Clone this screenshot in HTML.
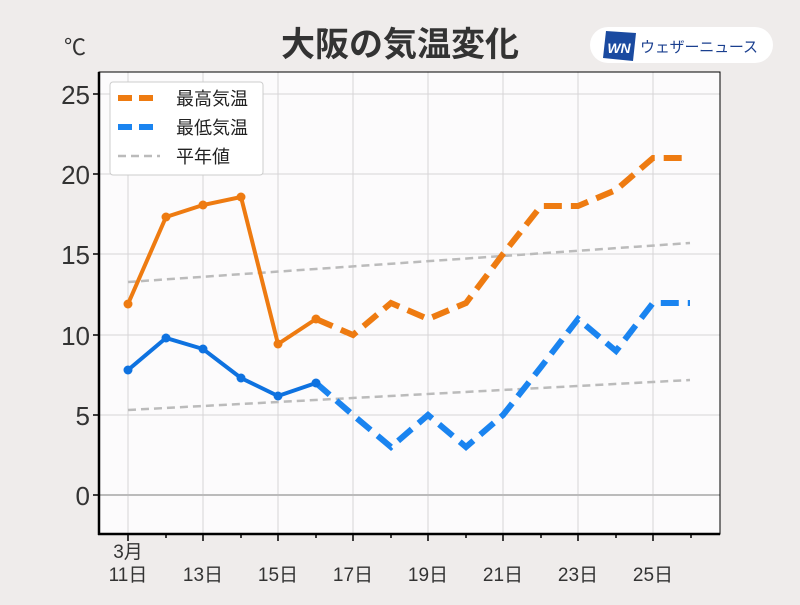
<!DOCTYPE html><html><head><meta charset="utf-8"><style>body{margin:0;background:#efeceb}svg text{font-family:"Liberation Sans","Noto Sans CJK JP",sans-serif}</style></head><body>
<svg width="800" height="600" xmlns="http://www.w3.org/2000/svg">
<rect width="800" height="600" fill="#efeceb"/>
<text x="400" y="56" text-anchor="middle" font-size="34" font-weight="bold" fill="#333">大阪の気温変化</text>
<rect x="590" y="27" width="183" height="36" rx="18" fill="#fff"/>
<polygon points="606,31 636,33 633,61 603,58" fill="#1a4aa0"/>
<text x="619" y="53" text-anchor="middle" font-size="14" font-weight="bold" font-style="italic" fill="#fff">WN</text>
<text x="640" y="52" font-size="15" fill="#1a3f8f" textLength="118">ウェザーニュース</text>
<text x="64" y="55" font-size="22" fill="#333">℃</text>
<rect x="99" y="72" width="621" height="462" fill="#fcfbfc"/>
<g stroke="#d6d4d6" stroke-width="1">
<line x1="128" y1="72" x2="128" y2="534"/><line x1="203" y1="72" x2="203" y2="534"/><line x1="278" y1="72" x2="278" y2="534"/><line x1="353" y1="72" x2="353" y2="534"/><line x1="428" y1="72" x2="428" y2="534"/><line x1="503" y1="72" x2="503" y2="534"/><line x1="578" y1="72" x2="578" y2="534"/><line x1="653" y1="72" x2="653" y2="534"/>
<line x1="99" y1="94" x2="720" y2="94"/><line x1="99" y1="174" x2="720" y2="174"/><line x1="99" y1="254" x2="720" y2="254"/><line x1="99" y1="335" x2="720" y2="335"/><line x1="99" y1="415" x2="720" y2="415"/>
</g>
<line x1="99" y1="495" x2="720" y2="495" stroke="#bbb" stroke-width="2"/>
<rect x="99" y="72" width="621" height="462" fill="none" stroke="#000" stroke-width="1"/>
<line x1="99" y1="72" x2="99" y2="535" stroke="#000" stroke-width="2.5"/>
<line x1="98" y1="534" x2="720" y2="534" stroke="#000" stroke-width="2.5"/>
<g stroke="#000" stroke-width="1.5">
<line x1="93" y1="94" x2="99" y2="94"/><line x1="93" y1="174" x2="99" y2="174"/><line x1="93" y1="254" x2="99" y2="254"/><line x1="93" y1="335" x2="99" y2="335"/><line x1="93" y1="415" x2="99" y2="415"/><line x1="93" y1="495" x2="99" y2="495"/>
<line x1="128" y1="534" x2="128" y2="541"/><line x1="203" y1="534" x2="203" y2="541"/><line x1="278" y1="534" x2="278" y2="541"/><line x1="353" y1="534" x2="353" y2="541"/><line x1="428" y1="534" x2="428" y2="541"/><line x1="503" y1="534" x2="503" y2="541"/><line x1="578" y1="534" x2="578" y2="541"/><line x1="653" y1="534" x2="653" y2="541"/>
<line x1="166" y1="534" x2="166" y2="538"/><line x1="241" y1="534" x2="241" y2="538"/><line x1="316" y1="534" x2="316" y2="538"/><line x1="391" y1="534" x2="391" y2="538"/><line x1="466" y1="534" x2="466" y2="538"/><line x1="541" y1="534" x2="541" y2="538"/><line x1="616" y1="534" x2="616" y2="538"/><line x1="691" y1="534" x2="691" y2="538"/>
</g>
<g font-size="26" fill="#333" text-anchor="end">
<text x="90" y="104">25</text><text x="90" y="184">20</text><text x="90" y="264">15</text><text x="90" y="345">10</text><text x="90" y="425">5</text><text x="90" y="505">0</text>
</g>
<g font-size="19" fill="#333" text-anchor="middle">
<text x="128" y="558">3月</text><text x="128" y="581">11日</text><text x="203" y="581">13日</text><text x="278" y="581">15日</text><text x="353" y="581">17日</text><text x="428" y="581">19日</text><text x="503" y="581">21日</text><text x="578" y="581">23日</text><text x="653" y="581">25日</text>
</g>
<g fill="none" stroke="#bbb" stroke-width="2.5" stroke-dasharray="8,5">
<polyline points="128,282 690,243"/><polyline points="128,410 690,380"/>
</g>
<polyline fill="none" stroke="#ee7b11" stroke-width="4" points="128,304 166,217 203,205 241,197 278,344 316,319"/>
<polyline fill="none" stroke="#ee7b11" stroke-width="6" stroke-dasharray="18,9" points="316,319 353,335 391,303 428,319 466,303 503,254 541,206 578,206 616,190 653,158 690,158"/>
<g fill="#ee7b11"><circle cx="128" cy="304" r="4.5"/><circle cx="166" cy="217" r="4.5"/><circle cx="203" cy="205" r="4.5"/><circle cx="241" cy="197" r="4.5"/><circle cx="278" cy="344" r="4.5"/><circle cx="316" cy="319" r="4.5"/></g>
<polyline fill="none" stroke="#0e72e0" stroke-width="4" points="128,370 166,338 203,349 241,378 278,396 316,383"/>
<polyline fill="none" stroke="#1a84f0" stroke-width="6" stroke-dasharray="18,9" points="316,383 353,415 391,447 428,415 466,447 503,415 541,367 578,319 616,351 653,303 690,303"/>
<g fill="#0e72e0"><circle cx="128" cy="370" r="4.5"/><circle cx="166" cy="338" r="4.5"/><circle cx="203" cy="349" r="4.5"/><circle cx="241" cy="378" r="4.5"/><circle cx="278" cy="396" r="4.5"/><circle cx="316" cy="383" r="4.5"/></g>
<rect x="110" y="82" width="153" height="93" rx="3" fill="#fff" stroke="#ccc"/>
<line x1="118" y1="98" x2="160" y2="98" stroke="#ee7b11" stroke-width="6" stroke-dasharray="14,7"/>
<line x1="118" y1="127" x2="160" y2="127" stroke="#1a84f0" stroke-width="6" stroke-dasharray="14,7"/>
<line x1="118" y1="156" x2="160" y2="156" stroke="#bbb" stroke-width="2.5" stroke-dasharray="8,5"/>
<g font-size="18" fill="#222"><text x="176" y="105">最高気温</text><text x="176" y="134">最低気温</text><text x="176" y="163">平年値</text></g>
</svg></body></html>
